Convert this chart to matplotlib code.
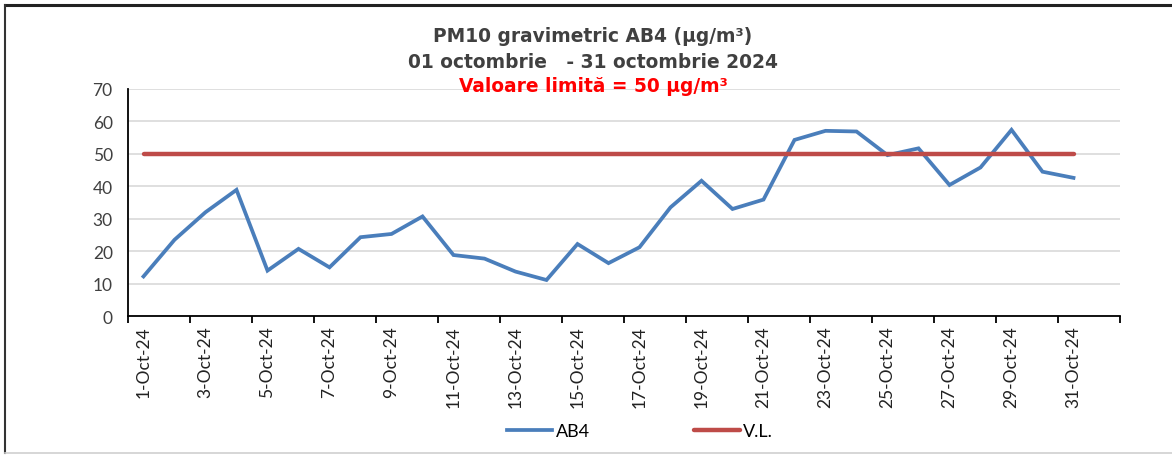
import matplotlib
matplotlib.use('Agg')
from matplotlib import pyplot as plt
from matplotlib.lines import Line2D

days = list(range(1, 32))
ab4 = [12.2, 23.5, 32.0, 38.9, 14.0, 20.7, 15.0, 24.3, 25.3, 30.7,
       18.8, 17.7, 13.7, 11.1, 22.2, 16.3, 21.2, 33.5, 41.7, 33.0,
       35.9, 54.3, 57.1, 56.9, 49.6, 51.7, 40.4, 45.8, 57.4, 44.5, 42.6]
limit_value = 50
tick_labels = [f"{d}-Oct-24" for d in days]
y_ticks = [0, 10, 20, 30, 40, 50, 60, 70]

W, H = 1172, 456
fig = plt.figure(figsize=(W / 100, H / 100), dpi=100)
fig.patch.set_facecolor('white')

# frame round the chart
fig.add_artist(Line2D([5 / W, 1.0], [1 - 6 / H, 1 - 6 / H], color='#222222', lw=2.2))
fig.add_artist(Line2D([5 / W, 5 / W], [1 - 6 / H, 2 / H], color='#333333', lw=1.5))
fig.add_artist(Line2D([5 / W, 1.0], [2 / H, 2 / H], color='#d0d0d0', lw=1.2))

ax = fig.add_axes([128 / W, (H - 317) / H, (1120 - 128) / W, (317 - 90) / H])

ax.plot(days, ab4, color='#4A7EBB', lw=2.7, label='AB4', solid_joinstyle='miter')
ax.plot(days, [limit_value] * len(days), color='#BE4B48', lw=3.2, label='V.L.',
        solid_capstyle='round')

ax.set_xlim(0.5, 32.5)
ax.set_ylim(0, 70)
ax.set_yticks(y_ticks)
ax.set_yticklabels([str(v) for v in y_ticks], fontsize=12.5, color='#404040',
                   family='Lato')
ax.tick_params(axis='y', length=0, pad=11)
ax.grid(axis='y', color='#d9d9d9', lw=1.2)
ax.set_axisbelow(True)

ax.set_xticks(days[::2])
ax.set_xticklabels(tick_labels[::2], rotation=90, fontsize=12.5, color='#222222',
                   family='Lato')
ax.set_xticks([d + 0.5 for d in range(0, 33, 2)], minor=True)
ax.tick_params(axis='x', which='major', length=0, pad=7)
ax.tick_params(axis='x', which='minor', length=5, width=1.3, color='black', direction='out')

for s in ['top', 'right']:
    ax.spines[s].set_visible(False)
ax.spines['left'].set_color('black')
ax.spines['left'].set_linewidth(1.3)
ax.spines['bottom'].set_color('black')
ax.spines['bottom'].set_linewidth(1.3)

fig.text(593 / W, 1 - 37 / H, 'PM10 gravimetric AB4 (µg/m³)', ha='center', va='center',
         fontsize=13.4, fontweight='bold', color='#404040', family='DejaVu Sans')
fig.text(593 / W, 1 - 62 / H, '01 octombrie   - 31 octombrie 2024', ha='center', va='center',
         fontsize=13.4, fontweight='bold', color='#404040', family='DejaVu Sans')
fig.text(593 / W, 1 - 87 / H, 'Valoare limită = 50 µg/m³', ha='center', va='center',
         fontsize=13.4, fontweight='bold', color='#FF0000', family='DejaVu Sans')

fig.legend(loc='center', bbox_to_anchor=(640 / W, 1 - 432 / H), ncol=2, frameon=False,
           handlelength=2.5, handletextpad=0.2, columnspacing=5.8,
           prop={'family': 'Lato', 'size': 13})

fig.savefig('out.png', dpi=100, facecolor='white')
